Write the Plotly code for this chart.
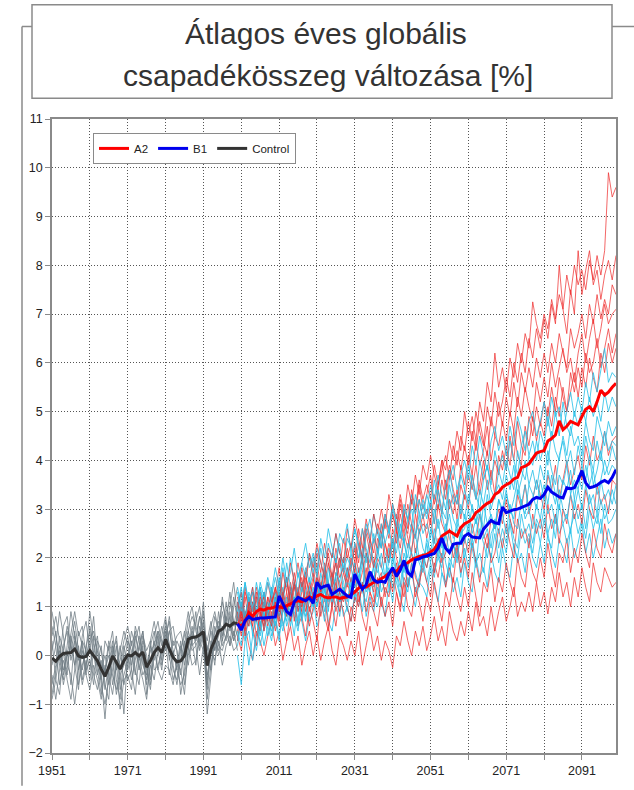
import plotly.graph_objects as go

# ---------------- DATA ----------------
YEARS_CTRL = list(range(1951, 2001))
YEARS_SCEN = list(range(2000, 2101))
X_TICK_VALUES = list(range(1951, 2100, 10))
X_TICK_LABELS = ["1951", "", "1971", "", "1991", "", "2011", "", "2031", "", "2051", "", "2071", "", "2091"]
Y_TICK_VALUES = list(range(-2, 12))

CTRL_MEAN = [-0.05, -0.12, -0.02, 0.04, 0.05, 0.06, 0.13, -0.01, -0.04, -0.02,
             0.1, -0.01, -0.11, -0.28, -0.43, -0.24, -0.01, -0.14, -0.28, -0.11,
             0.01, -0.01, 0.06, -0.01, 0.07, -0.24, -0.11, 0.06, 0.16, 0.06,
             0.33, 0.13, -0.04, -0.13, -0.11, -0.01, 0.33, 0.37, 0.38, 0.42,
             0.49, -0.21, 0.13, 0.31, 0.5, 0.54, 0.64, 0.6, 0.67, 0.65]

B1_MEAN = [0.65, 0.52, 0.71, 0.8, 0.74, 0.76, 0.77, 0.77, 0.78, 0.78,
           0.79, 1.22, 1.05, 0.9, 0.84, 1.1, 1.19, 1.15, 1.12, 1.18,
           1.07, 1.5, 1.38, 1.42, 1.44, 1.25, 1.3, 1.36, 1.29, 1.22,
           1.19, 1.67, 1.5, 1.36, 1.45, 1.72, 1.55, 1.5, 1.52, 1.5,
           1.67, 1.8, 1.62, 1.75, 1.95, 1.7, 1.63, 1.96, 1.98, 2.02,
           2.04, 2.07, 2.09, 2.2, 2.41, 2.2, 2.11, 2.28, 2.3, 2.3,
           2.45, 2.5, 2.43, 2.42, 2.41, 2.59, 2.68, 2.77, 2.72, 2.7,
           3.04, 2.93, 2.96, 2.99, 3.0, 3.03, 3.07, 3.1, 3.2, 3.24,
           3.22, 3.3, 3.45, 3.35, 3.3, 3.25, 3.23, 3.44, 3.42, 3.44,
           3.6, 3.79, 3.54, 3.44, 3.46, 3.49, 3.55, 3.59, 3.54, 3.65,
           3.81]

A2_MEAN = [0.65, 0.6, 0.7, 0.88, 0.8, 0.9, 0.95, 0.93, 0.97, 0.97,
           1.0, 1.0, 0.98, 1.02, 1.05, 1.1, 1.12, 1.1, 1.15, 1.2,
           1.17, 1.22, 1.25, 1.2, 1.18, 1.2, 1.2, 1.17, 1.19, 1.2,
           1.25, 1.3, 1.38, 1.42, 1.4, 1.45, 1.5, 1.52, 1.58, 1.62,
           1.68, 1.75, 1.72, 1.82, 1.87, 1.9, 1.96, 2.0, 2.03, 2.05,
           2.07, 2.12, 2.18, 2.3, 2.45, 2.5, 2.55, 2.5, 2.45, 2.62,
           2.7, 2.74, 2.8, 2.93, 2.98, 3.06, 3.12, 3.16, 3.3, 3.35,
           3.45, 3.5, 3.54, 3.62, 3.65, 3.85, 3.88, 3.93, 4.05, 4.15,
           4.18, 4.2, 4.4, 4.45, 4.52, 4.81, 4.63, 4.7, 4.8, 4.76,
           4.73, 4.9, 5.05, 5.1, 5.0, 5.2, 5.44, 5.34, 5.4, 5.5,
           5.58]

# Control ensemble members (1951-2000)
CTRL_1 = [0.6, 0.2, 0.9, 0.4, -0.2, 0.3, 0.7, 0.1, -0.3, 0.2,
          0.5, 0.0, -0.4, -0.1, -0.7, -0.2, 0.3, -0.5, -0.9, 0.1,
          0.4, -0.2, 0.3, 0.6, -0.1, -0.6, 0.2, 0.5, 0.1, 0.4,
          0.8, 0.2, -0.3, -0.5, 0.1, 0.4, 0.9, 0.3, 0.7, 1.0,
          0.4, -0.6, 0.2, 0.8, 0.5, 1.1, 0.7, 1.3, 0.6, 1.0]
CTRL_2 = [-0.4, -0.9, -0.3, 0.2, 0.5, -0.1, 0.3, -0.6, -0.2, 0.1,
          -0.3, 0.4, 0.1, -0.6, -1.0, -0.5, 0.1, 0.3, -0.4, -0.2,
          0.3, 0.1, -0.4, 0.2, 0.5, -0.3, -0.7, 0.1, 0.4, -0.2,
          0.2, 0.5, 0.1, -0.3, -0.6, -0.4, 0.1, 0.6, 0.2, 0.4,
          0.9, -0.9, -0.2, 0.3, 0.1, 0.6, 0.3, 0.9, 0.4, 0.8]
CTRL_3 = [0.1, 0.5, -0.2, -0.5, 0.2, 0.9, 0.4, -0.1, 0.3, -0.4,
          0.6, 0.2, -0.3, -0.8, -0.2, -0.6, -0.3, 0.2, -0.7, -0.4,
          -0.1, 0.5, 0.2, -0.3, 0.3, 0.0, -0.5, 0.4, 0.7, 0.2,
          0.6, -0.1, 0.3, 0.1, -0.4, 0.2, 0.7, 1.0, 0.5, 0.2,
          0.7, 0.1, 0.5, 0.1, 0.9, 0.4, 1.1, 0.5, 1.2, 0.7]
CTRL_4 = [-0.6, -0.2, 0.4, 0.1, -0.5, -0.9, -0.3, 0.5, 0.2, -0.3,
          -0.1, -0.6, 0.3, 0.1, -0.4, 0.2, -0.6, -0.1, -1.1, -0.5,
          -0.4, -0.7, 0.1, -0.2, -0.5, -0.9, -0.1, 0.3, -0.3, 0.1,
          0.4, 0.7, -0.2, -0.6, -0.1, 0.3, -0.2, 0.4, 0.9, 0.1,
          0.5, -1.2, -0.4, 0.4, 0.0, 0.3, 0.8, 0.2, 0.5, 0.1]
CTRL_5 = [0.3, -0.5, -0.8, 0.1, 0.6, 0.2, -0.2, -0.7, 0.3, 0.1,
          0.9, 0.3, -0.2, 0.2, -0.6, -0.9, 0.2, -0.3, 0.1, 0.5,
          0.2, -0.3, 0.6, 0.3, -0.2, -0.4, 0.2, -0.1, 0.5, 0.3,
          0.1, 0.5, 0.6, 0.1, -0.8, -0.3, 0.5, 0.2, 0.3, 0.8,
          0.6, 0.3, 0.7, 0.1, 0.4, 0.9, 0.5, 0.2, 1.0, 1.4]
CTRL_6 = [-0.8, -0.3, 0.2, -0.4, 0.1, -0.6, 0.4, 0.0, -0.6, -0.2,
          0.2, -0.4, -0.7, -0.3, 0.0, -0.4, -0.8, -0.2, 0.2, -0.6,
          -0.2, 0.3, -0.3, -0.6, 0.2, -0.8, -0.2, -0.5, 0.1, -0.3,
          0.5, 0.0, -0.5, -0.2, 0.3, -0.6, 0.0, 0.3, -0.2, 0.6,
          0.2, -0.5, 0.3, -0.2, 0.6, 0.2, 0.4, 0.8, 0.3, 0.5]
CTRL_7 = [0.9, 0.4, -0.1, 0.6, 0.8, 0.1, 0.5, -0.3, 0.4, 0.7,
          0.1, 0.8, -0.2, -0.5, 0.3, 0.1, 0.5, -0.3, -0.1, 0.3,
          0.6, 0.2, 0.5, -0.1, 0.4, 0.1, 0.3, 0.7, 0.2, 0.6,
          0.3, 0.8, 0.2, 0.4, 0.5, 0.1, 0.5, 0.8, 0.6, 0.3,
          1.1, -0.1, 0.6, 0.9, 0.5, 1.2, 0.6, 1.0, 1.5, 0.8]
CTRL_8 = [-0.2, 0.2, -0.6, -0.1, -0.4, 0.4, -0.2, 0.2, -0.5, -0.1,
          -0.5, 0.1, 0.4, -0.4, -1.3, -0.3, -0.1, -0.8, -0.4, -1.2,
          0.0, -0.5, -0.1, 0.4, 0.0, -0.5, 0.3, -0.3, -0.2, 0.1,
          0.3, -0.4, 0.1, -0.3, 0.2, -0.2, 0.4, 0.1, 0.2, -0.4,
          0.2, -0.4, 0.0, 0.6, 0.2, 0.1, 0.4, 0.6, 0.3, 0.9]
CTRL_9 = [0.4, 0.8, 0.3, -0.3, 0.0, 0.5, 0.9, 0.4, 0.6, 0.0,
          0.3, 0.5, 0.1, -0.2, -0.3, 0.3, 0.0, 0.4, -0.3, 0.2,
          -0.3, 0.0, 0.4, 0.1, 0.5, -0.2, 0.1, 0.2, 0.5, -0.1,
          0.7, 0.2, 0.0, 0.3, 0.1, 0.5, 0.2, 0.5, 0.3, 0.8,
          0.3, 0.2, -0.3, 0.5, 0.7, 0.3, 0.9, 1.1, 0.7, 0.4]
CTRL_10 = [-0.9, -0.5, 0.1, -0.6, -0.2, -0.4, -1.0, -0.3, 0.1, -0.4,
           -0.7, -0.2, -0.5, -0.9, -0.3, 0.0, -0.4, -0.7, -0.3, 0.0,
           -0.5, -0.3, -0.8, 0.0, -0.4, -0.2, -0.6, 0.1, -0.3, -0.5,
           -0.2, -0.3, -0.6, -0.1, -0.3, -0.8, 0.2, -0.2, -0.1, 0.3,
           0.1, -0.7, 0.1, -0.1, 0.3, -0.2, 0.2, 0.4, 0.1, 0.2]

# B1 ensemble members (2000-2100)
B1_1 = [0.3, 0.9, 0.5, -0.2, 0.4, 0.8, 0.2, 0.6, 1.0, 0.4,
        0.7, 0.3, 1.1, 0.6, 0.9, 0.4, 1.2, 0.7, 0.3, 0.8,
        1.2, 0.6, 0.9, 1.4, 0.7, 0.5, 1.1, 1.3, 0.8, 1.0,
        0.7, 1.3, 1.0, 1.5, 0.8, 1.2, 0.9, 1.4, 1.1, 0.8,
        1.5, 1.1, 1.7, 1.2, 0.9, 1.6, 1.3, 1.0, 1.5, 1.4,
        1.2, 1.8, 1.4, 1.1, 1.7, 1.5, 1.9, 1.3, 1.6, 1.2,
        1.9, 1.5, 1.3, 2.0, 1.6, 1.8, 1.4, 2.1, 1.7, 1.5,
        2.2, 1.8, 1.6, 2.3, 1.9, 2.1, 1.7, 2.4, 2.0, 1.8,
        2.3, 1.9, 2.5, 2.1, 1.8, 2.4, 2.2, 1.9, 2.6, 2.0,
        2.3, 2.7, 2.1, 2.5, 2.0, 2.4, 2.8, 2.2, 2.6, 2.3,
        2.5]
B1_2 = [1.1, 0.5, 0.8, 1.2, 0.4, 0.9, 0.6, 1.3, 0.7, 0.5,
        1.0, 1.3, 0.6, 0.9, 1.4, 0.8, 0.5, 1.1, 1.2, 0.7,
        0.9, 1.4, 1.2, 0.7, 1.5, 1.0, 1.3, 0.8, 1.4, 1.1,
        1.6, 1.1, 1.4, 0.9, 1.5, 1.7, 1.2, 1.0, 1.6, 1.3,
        1.3, 1.8, 1.5, 1.2, 1.9, 1.4, 1.7, 1.3, 1.6, 2.0,
        1.5, 1.9, 1.6, 2.2, 1.7, 1.4, 2.0, 1.8, 2.3, 1.6,
        2.2, 1.8, 2.4, 1.9, 2.1, 1.7, 2.3, 2.0, 2.5, 1.9,
        2.4, 2.1, 2.7, 2.2, 2.0, 2.6, 2.3, 2.5, 2.1, 2.7,
        2.3, 2.8, 2.4, 2.2, 2.9, 2.5, 2.7, 2.3, 2.6, 2.9,
        2.5, 2.8, 2.4, 3.0, 2.6, 2.9, 2.5, 3.1, 2.7, 2.8,
        3.0]
B1_3 = [0.2, 0.7, 0.3, 0.8, 0.5, 0.1, 0.6, 0.9, 0.4, 0.7,
        1.2, 0.8, 0.5, 1.0, 1.3, 0.9, 0.6, 1.2, 0.8, 1.1,
        1.4, 1.0, 1.3, 0.9, 1.5, 1.2, 1.6, 1.1, 1.3, 0.9,
        1.5, 1.2, 1.8, 1.3, 1.1, 1.6, 1.4, 1.9, 1.3, 1.5,
        1.8, 1.4, 1.6, 2.0, 1.5, 1.3, 1.9, 1.7, 1.4, 2.1,
        1.8, 2.2, 1.7, 2.0, 2.4, 1.9, 1.6, 2.3, 2.0, 2.5,
        2.0, 2.4, 2.2, 1.8, 2.6, 2.3, 2.0, 2.5, 2.7, 2.2,
        2.6, 2.3, 2.8, 2.4, 2.2, 2.9, 2.5, 2.7, 2.3, 2.8,
        2.6, 3.0, 2.5, 2.8, 2.4, 3.1, 2.7, 2.9, 2.5, 3.2,
        2.8, 3.1, 2.6, 3.3, 2.9, 2.7, 3.2, 2.8, 3.0, 3.4,
        3.1]
B1_4 = [0.9, 1.3, 0.6, 1.0, 1.4, 0.7, 1.1, 0.5, 0.9, 1.2,
        0.6, 1.1, 1.4, 0.8, 1.0, 1.5, 0.9, 1.2, 0.7, 1.3,
        1.0, 1.6, 1.2, 1.4, 0.9, 1.7, 1.3, 1.1, 1.5, 1.8,
        1.2, 1.7, 1.4, 1.9, 1.3, 1.5, 1.8, 1.2, 1.6, 2.0,
        1.5, 2.0, 1.7, 1.4, 2.1, 1.8, 1.6, 2.2, 1.9, 1.7,
        2.3, 1.9, 2.4, 2.0, 1.8, 2.5, 2.1, 2.3, 1.9, 2.6,
        2.3, 2.7, 2.2, 2.5, 2.9, 2.4, 2.6, 2.2, 2.8, 2.5,
        2.9, 2.5, 3.1, 2.7, 2.6, 3.2, 2.8, 3.0, 2.6, 3.1,
        2.8, 3.3, 2.9, 3.1, 2.7, 3.4, 3.0, 2.8, 3.3, 3.0,
        3.4, 3.0, 3.5, 3.1, 3.3, 2.9, 3.6, 3.2, 3.4, 3.1,
        3.5]
B1_5 = [0.5, 0.2, 0.9, 0.6, 1.1, 0.7, 0.4, 1.0, 0.8, 1.3,
        0.9, 1.4, 1.0, 0.7, 1.2, 1.5, 1.1, 0.8, 1.3, 1.6,
        1.2, 1.0, 1.7, 1.3, 1.1, 1.6, 1.9, 1.4, 1.2, 1.7,
        1.8, 1.4, 1.6, 2.0, 1.5, 1.3, 1.9, 1.7, 2.1, 1.6,
        1.9, 2.3, 1.7, 2.0, 2.4, 1.8, 2.2, 2.5, 2.0, 1.8,
        2.4, 2.1, 2.6, 2.2, 2.0, 2.7, 2.4, 2.2, 2.8, 2.5,
        2.6, 3.0, 2.5, 2.8, 2.4, 3.1, 2.7, 2.9, 2.6, 3.2,
        2.9, 3.3, 3.0, 2.8, 3.4, 3.1, 3.5, 3.0, 3.2, 3.6,
        3.2, 3.5, 3.1, 3.7, 3.3, 3.0, 3.6, 3.4, 3.8, 3.2,
        3.7, 3.4, 3.9, 3.5, 3.8, 3.3, 3.6, 4.0, 3.7, 3.9,
        3.8]
B1_6 = [1.3, 0.9, 1.5, 1.0, 0.7, 1.2, 1.4, 0.8, 1.1, 0.6,
        1.3, 0.8, 1.1, 1.6, 1.0, 1.2, 0.7, 1.5, 1.1, 1.4,
        1.7, 1.2, 1.5, 1.1, 1.8, 1.4, 1.6, 2.0, 1.3, 1.5,
        1.4, 1.9, 1.6, 1.3, 2.1, 1.7, 1.5, 2.2, 1.8, 1.6,
        2.2, 1.8, 2.5, 2.0, 1.7, 2.3, 2.1, 1.9, 2.6, 2.2,
        2.0, 2.6, 2.3, 2.8, 2.2, 2.5, 2.9, 2.4, 2.6, 2.3,
        2.9, 2.5, 3.1, 2.7, 3.0, 2.6, 3.3, 2.8, 2.6, 3.2,
        3.0, 3.4, 2.9, 3.2, 3.6, 3.1, 2.9, 3.5, 3.3, 3.0,
        3.6, 3.2, 3.8, 3.4, 3.1, 3.7, 3.5, 3.9, 3.3, 3.6,
        3.4, 3.9, 3.6, 4.1, 3.5, 3.8, 4.2, 3.7, 3.9, 4.3,
        4.0]
B1_7 = [0.0, -0.6, 0.3, 0.5, -0.1, 0.4, 0.7, 0.2, 0.6, 0.3,
        0.8, 0.4, 0.9, 1.2, 0.6, 1.0, 1.3, 0.7, 1.1, 1.4,
        1.0, 1.5, 1.2, 1.8, 1.4, 1.1, 1.7, 1.5, 2.0, 1.6,
        2.1, 1.7, 1.5, 2.2, 1.9, 2.4, 1.8, 2.0, 2.5, 2.1,
        1.9, 2.4, 2.1, 2.7, 2.3, 2.0, 2.6, 2.4, 2.9, 2.5,
        2.7, 2.4, 3.0, 2.6, 2.9, 2.5, 3.2, 2.8, 2.6, 3.1,
        2.8, 3.3, 3.0, 2.7, 3.4, 3.1, 3.6, 3.0, 3.3, 3.5,
        3.2, 3.7, 3.4, 3.9, 3.3, 3.6, 4.0, 3.5, 3.8, 3.4,
        3.9, 3.6, 4.2, 3.8, 3.5, 4.1, 4.4, 3.9, 4.2, 3.7,
        4.3, 3.9, 4.5, 4.1, 3.8, 4.4, 4.0, 4.6, 4.2, 4.4,
        4.3]
B1_8 = [1.0, 1.4, 0.8, 1.2, 0.9, 1.5, 1.1, 1.3, 0.8, 1.4,
        1.1, 1.6, 1.2, 1.9, 1.4, 1.1, 1.7, 1.3, 1.8, 1.5,
        2.0, 1.6, 2.2, 1.8, 1.5, 2.1, 1.9, 2.3, 1.7, 2.0,
        1.8, 2.3, 2.0, 2.6, 2.2, 1.9, 2.5, 2.1, 2.7, 2.3,
        2.6, 2.2, 2.9, 2.5, 2.3, 2.8, 3.0, 2.5, 2.7, 3.1,
        2.8, 3.2, 2.7, 3.4, 3.0, 2.8, 3.5, 3.1, 3.3, 2.9,
        3.4, 3.1, 3.7, 3.3, 3.0, 3.6, 3.9, 3.4, 3.2, 3.8,
        3.5, 4.0, 3.7, 3.4, 4.2, 3.8, 3.6, 4.1, 3.9, 4.4,
        4.0, 4.3, 3.9, 4.6, 4.2, 4.0, 4.5, 4.1, 4.7, 4.3,
        4.5, 4.1, 4.8, 4.4, 4.2, 4.9, 4.6, 4.3, 4.8, 4.5,
        4.7]
B1_9 = [0.7, 1.1, 0.6, 1.3, 1.0, 0.8, 1.4, 1.0, 1.5, 1.2,
        1.6, 1.2, 1.8, 1.4, 2.0, 1.5, 1.3, 1.9, 1.6, 2.1,
        1.7, 2.2, 1.9, 1.6, 2.3, 2.0, 2.5, 2.1, 1.8, 2.4,
        2.2, 2.6, 2.3, 2.0, 2.7, 2.4, 2.9, 2.5, 2.2, 2.8,
        2.6, 3.1, 2.7, 2.4, 3.0, 2.8, 3.3, 2.9, 3.2, 2.8,
        3.3, 3.0, 3.6, 3.2, 2.9, 3.5, 3.8, 3.3, 3.1, 3.7,
        3.4, 3.9, 3.5, 3.2, 4.0, 3.6, 3.9, 3.5, 4.2, 3.8,
        4.1, 3.8, 4.4, 4.0, 3.7, 4.3, 4.6, 4.1, 4.4, 4.0,
        4.6, 4.3, 4.9, 4.4, 5.0, 4.5, 5.2, 4.7, 4.5, 5.0,
        4.7, 5.1, 4.8, 5.3, 4.9, 5.2, 4.8, 5.4, 5.0, 5.3,
        5.1]
B1_10 = [1.4, 1.0, 1.5, 1.1, 1.3, 0.9, 1.5, 1.2, 1.6, 1.3,
         1.8, 1.4, 2.0, 1.5, 1.7, 2.2, 1.6, 1.9, 2.3, 1.8,
         2.1, 1.7, 2.4, 2.0, 2.6, 2.2, 1.9, 2.5, 2.3, 2.7,
         2.1, 2.6, 2.2, 1.9, 2.5, 2.8, 2.3, 2.6, 2.2, 2.9,
         2.5, 3.0, 2.7, 2.4, 3.1, 2.8, 2.6, 3.3, 2.9, 3.2,
         2.9, 3.5, 3.2, 3.7, 3.3, 3.0, 3.6, 3.9, 3.4, 3.7,
         4.0, 3.6, 4.3, 3.9, 4.5, 4.1, 3.8, 4.4, 4.7, 4.2,
         4.5, 4.1, 4.7, 4.3, 4.9, 4.6, 4.2, 4.8, 5.0, 4.5,
         4.8, 5.2, 4.7, 5.3, 4.9, 5.1, 4.6, 5.0, 5.4, 4.9,
         5.3, 5.0, 5.6, 5.2, 5.8, 5.4, 5.9, 6.3, 5.6, 5.8,
         5.7]

# A2 ensemble members (2000-2100)
A2_1 = [0.4, 0.1, 0.6, 0.2, -0.1, 0.5, 0.3, 0.0, 0.4, 0.7,
        0.2, 0.5, -0.1, 0.3, 0.6, 0.1, 0.4, -0.2, 0.2, 0.5,
        0.0, 0.4, -0.1, 0.3, 0.6, 0.1, -0.2, 0.4, 0.2, -0.1,
        0.3, 0.0, 0.5, -0.2, 0.2, 0.6, 0.1, 0.4, -0.1, 0.3,
        0.1, -0.25, 0.4, 0.2, 0.7, 0.3, 0.0, 0.5, 0.2, 0.6,
        0.1, 0.4, 0.8, 0.3, 0.6, 0.2, 0.9, 0.5, 0.3, 0.7,
        0.4, 0.9, 0.5, 1.1, 0.6, 0.8, 0.4, 1.0, 0.5, 0.9,
        1.2, 0.7, 1.0, 1.4, 0.8, 1.1, 0.9, 1.3, 0.9, 1.5,
        1.0, 1.3, 0.85, 1.4, 1.1, 1.7, 1.2, 1.5, 1.0, 1.6,
        1.2, 1.8, 1.4, 1.1, 1.9, 1.5, 1.3, 1.8, 1.6, 1.4,
        1.5]
A2_2 = [0.9, 0.5, 1.2, 0.7, 1.0, 0.4, 0.8, 1.1, 0.6, 0.9,
        0.5, 1.0, 0.7, 0.3, 0.9, 1.2, 0.6, 0.8, 0.4, 1.0,
        0.7, 0.3, 1.1, 0.8, 0.5, 1.0, 0.6, 1.2, 0.9, 0.4,
        1.0, 0.7, 1.3, 0.8, 0.5, 1.1, 0.9, 0.6, 1.2, 0.8,
        1.1, 0.6, 1.3, 0.9, 1.5, 1.0, 0.8, 1.4, 1.1, 0.7,
        1.2, 0.9, 1.5, 1.1, 0.7, 1.3, 1.0, 1.6, 1.2, 0.9,
        1.4, 1.0, 1.7, 1.2, 0.8, 1.5, 1.3, 1.8, 1.1, 1.6,
        1.3, 1.9, 1.5, 1.2, 2.0, 1.6, 1.4, 2.1, 1.7, 1.5,
        2.0, 1.6, 2.3, 1.8, 1.4, 2.1, 1.9, 2.4, 1.7, 2.2,
        1.9, 2.5, 2.1, 1.8, 2.6, 2.2, 2.0, 2.7, 2.3, 2.1,
        2.5]
A2_3 = [0.3, 0.8, 0.5, 1.0, 0.6, 0.2, 0.9, 0.7, 1.2, 0.8,
        1.1, 0.6, 0.9, 1.3, 0.7, 1.0, 1.4, 0.8, 1.1, 0.6,
        1.0, 1.4, 0.8, 1.2, 0.6, 1.1, 1.5, 0.9, 1.3, 1.0,
        0.7, 1.2, 1.0, 1.5, 0.9, 1.3, 1.1, 1.6, 1.0, 1.4,
        1.2, 1.7, 1.3, 1.0, 1.6, 1.4, 1.9, 1.2, 1.5, 1.8,
        1.5, 1.2, 1.9, 1.6, 2.1, 1.4, 1.8, 1.5, 2.2, 1.7,
        2.0, 1.6, 2.3, 1.9, 1.5, 2.2, 2.5, 1.9, 2.1, 2.6,
        2.2, 2.7, 2.3, 2.0, 2.8, 2.4, 2.6, 2.2, 2.9, 2.5,
        2.8, 2.4, 3.1, 2.6, 2.9, 2.3, 3.0, 2.7, 3.3, 2.8,
        3.1, 2.7, 3.4, 3.0, 2.8, 3.5, 3.1, 3.3, 2.9, 3.6,
        3.5]
A2_4 = [1.2, 0.8, 1.4, 0.9, 0.6, 1.1, 1.3, 0.7, 1.0, 1.2,
        0.8, 1.3, 0.9, 1.1, 1.5, 0.7, 1.2, 1.0, 1.4, 0.9,
        1.3, 0.8, 1.2, 1.6, 1.0, 1.4, 0.9, 1.3, 1.1, 1.5,
        1.2, 1.6, 1.1, 1.4, 1.8, 1.3, 1.0, 1.5, 1.7, 1.2,
        1.6, 1.3, 1.9, 1.5, 1.2, 1.8, 2.1, 1.6, 1.4, 2.0,
        1.8, 2.2, 1.7, 2.4, 1.9, 2.1, 2.6, 2.0, 2.3, 1.9,
        2.4, 2.1, 2.7, 2.3, 2.9, 2.5, 2.2, 2.8, 2.6, 3.0,
        2.7, 3.2, 2.8, 2.5, 3.3, 3.0, 3.5, 2.9, 3.2, 3.6,
        3.3, 3.0, 3.7, 3.4, 3.9, 3.2, 3.6, 4.0, 3.5, 3.8,
        4.1, 3.6, 4.3, 3.9, 4.5, 4.0, 4.2, 4.6, 4.1, 4.4,
        4.5]
A2_5 = [0.6, 1.0, 0.4, 0.8, 1.3, 0.9, 0.5, 1.1, 0.8, 1.4,
        1.0, 1.5, 1.1, 0.8, 1.3, 1.7, 1.2, 0.9, 1.6, 1.3,
        1.1, 1.6, 1.3, 1.9, 1.4, 1.0, 1.7, 1.5, 1.2, 1.8,
        1.5, 1.9, 1.4, 1.7, 2.1, 1.6, 1.3, 2.0, 1.8, 2.3,
        1.9, 2.4, 2.0, 1.7, 2.5, 2.2, 2.7, 2.1, 2.5, 2.9,
        2.4, 2.8, 2.3, 3.1, 2.7, 2.5, 3.2, 2.9, 3.4, 2.8,
        3.3, 3.0, 3.7, 3.2, 3.5, 4.0, 3.4, 3.8, 3.3, 4.1,
        3.8, 4.3, 3.9, 4.6, 4.1, 3.9, 4.7, 4.3, 4.9, 4.4,
        4.8, 4.5, 5.1, 4.7, 5.3, 4.9, 5.5, 5.0, 5.4, 5.8,
        5.3, 5.9, 5.5, 6.1, 5.7, 5.4, 6.2, 5.8, 6.4, 6.0,
        6.3]
A2_6 = [0.8, 0.4, 0.9, 0.6, 1.1, 0.7, 1.0, 0.5, 0.9, 0.7,
        1.2, 0.8, 1.3, 1.0, 0.7, 1.4, 1.1, 1.5, 0.9, 1.3,
        1.6, 1.1, 1.4, 1.8, 1.2, 1.5, 1.9, 1.3, 1.7, 1.4,
        1.8, 2.2, 1.7, 2.0, 1.5, 2.3, 1.9, 2.1, 2.5, 1.9,
        2.3, 2.0, 2.6, 2.2, 2.8, 2.4, 2.1, 2.9, 2.5, 2.7,
        2.6, 3.1, 2.7, 3.4, 2.9, 3.6, 3.0, 3.3, 2.8, 3.5,
        3.2, 3.7, 3.4, 3.9, 3.3, 3.8, 4.2, 3.6, 4.0, 3.7,
        4.2, 3.8, 4.5, 4.0, 4.8, 4.3, 4.1, 4.9, 4.5, 5.1,
        4.7, 5.2, 4.9, 5.5, 5.0, 5.7, 5.3, 5.0, 5.8, 5.4,
        5.9, 5.5, 6.2, 5.8, 6.0, 6.5, 5.9, 6.3, 6.7, 6.2,
        6.6]
A2_7 = [1.0, 1.3, 0.8, 1.2, 0.9, 1.4, 1.0, 1.2, 0.7, 1.1,
        1.4, 0.9, 1.2, 1.6, 1.1, 1.5, 0.9, 1.3, 1.7, 1.2,
        1.5, 1.9, 1.4, 1.7, 2.1, 1.6, 1.3, 2.0, 1.7, 2.2,
        1.8, 2.3, 1.9, 2.6, 2.1, 1.8, 2.4, 2.2, 2.7, 2.3,
        2.0, 2.6, 2.3, 2.9, 2.5, 3.1, 2.7, 2.4, 3.2, 2.8,
        3.0, 2.7, 3.3, 3.0, 3.6, 3.2, 3.8, 3.4, 3.1, 3.9,
        3.5, 4.1, 3.7, 4.4, 3.9, 4.2, 4.7, 4.0, 4.5, 4.3,
        4.8, 4.4, 5.0, 4.6, 5.3, 4.9, 5.5, 5.1, 4.8, 5.6,
        5.2, 5.7, 5.3, 6.0, 5.5, 5.9, 6.3, 5.8, 6.1, 5.6,
        6.2, 6.6, 6.0, 6.5, 6.9, 6.3, 6.7, 7.2, 6.8, 7.0,
        7.1]
A2_8 = [0.7, 1.1, 0.6, 1.0, 0.7, 1.2, 0.8, 1.3, 0.9, 0.6,
        1.1, 0.7, 1.2, 0.9, 1.4, 1.0, 1.3, 1.6, 1.1, 1.5,
        1.2, 1.7, 1.3, 1.5, 1.9, 1.4, 2.0, 1.6, 1.8, 1.5,
        2.0, 1.7, 2.3, 1.9, 2.5, 2.1, 1.8, 2.4, 2.2, 2.8,
        2.4, 2.9, 2.5, 3.1, 2.7, 2.5, 3.2, 2.9, 3.5, 3.0,
        3.3, 3.7, 3.1, 3.5, 4.0, 3.4, 3.9, 3.6, 4.2, 3.8,
        4.3, 3.9, 4.6, 4.2, 4.8, 4.4, 4.1, 4.9, 4.5, 5.2,
        4.7, 5.3, 4.9, 5.6, 5.1, 5.8, 5.4, 5.9, 5.5, 6.1,
        5.7, 6.2, 5.8, 6.4, 6.0, 6.6, 6.2, 5.9, 6.7, 6.3,
        6.6, 7.0, 6.5, 7.2, 6.8, 7.4, 6.9, 7.3, 7.0, 7.6,
        7.4]
A2_9 = [1.1, 0.7, 1.3, 1.0, 1.4, 0.8, 1.2, 1.0, 1.5, 1.1,
        1.3, 1.8, 1.2, 1.6, 1.0, 1.5, 1.9, 1.4, 1.7, 2.0,
        1.6, 2.1, 1.7, 2.3, 1.9, 1.6, 2.2, 1.8, 2.4, 2.0,
        2.3, 1.9, 2.6, 2.2, 2.8, 2.4, 2.1, 2.7, 2.5, 2.9,
        2.6, 3.1, 2.8, 3.3, 2.9, 2.6, 3.4, 3.0, 3.6, 3.2,
        3.5, 3.2, 3.9, 3.5, 3.8, 4.1, 3.6, 4.3, 3.9, 4.5,
        4.2, 4.8, 4.4, 5.0, 4.6, 4.3, 5.1, 4.7, 5.4, 4.9,
        5.2, 5.7, 5.3, 6.0, 5.6, 6.2, 5.8, 6.5, 6.1, 6.7,
        6.3, 6.9, 6.5, 7.2, 6.8, 8.0, 7.1, 6.6, 7.5, 7.0,
        8.3, 7.4, 7.9, 8.3, 7.6, 7.9, 7.3, 7.8, 8.1, 7.7,
        8.2]
A2_10 = [0.5, 0.9, 0.6, 1.1, 0.8, 1.3, 0.9, 0.6, 1.2, 1.0,
         1.4, 1.1, 1.7, 1.3, 1.9, 1.5, 1.2, 1.8, 1.4, 2.1,
         1.8, 2.3, 1.9, 1.6, 2.2, 2.0, 2.5, 2.1, 1.9, 2.6,
         2.2, 2.8, 2.4, 2.0, 2.6, 2.3, 2.9, 2.5, 3.0, 2.6,
         3.3, 2.9, 2.6, 3.2, 2.8, 3.5, 3.1, 3.7, 3.3, 3.9,
         3.6, 4.1, 3.7, 3.4, 4.0, 3.8, 4.4, 4.0, 4.6, 4.2,
         5.0, 4.5, 4.9, 4.4, 5.2, 4.8, 5.6, 5.2, 6.2, 5.5,
         5.9, 5.4, 6.1, 5.7, 6.4, 6.0, 6.6, 6.3, 7.25, 6.8,
         6.5, 7.0, 6.7, 7.3, 6.9, 7.4, 7.1, 7.8, 7.4, 8.0,
         7.6, 7.9, 7.5, 8.1, 7.7, 8.2, 7.8, 8.3, 9.9, 9.4,
         9.6]

CTRL_MEMBERS = [CTRL_1, CTRL_2, CTRL_3, CTRL_4, CTRL_5, CTRL_6, CTRL_7, CTRL_8, CTRL_9, CTRL_10]
B1_MEMBERS = [B1_1, B1_2, B1_3, B1_4, B1_5, B1_6, B1_7, B1_8, B1_9, B1_10]
A2_MEMBERS = [A2_1, A2_2, A2_3, A2_4, A2_5, A2_6, A2_7, A2_8, A2_9, A2_10]

for s in CTRL_MEMBERS + [CTRL_MEAN]:
    assert len(s) == len(YEARS_CTRL), len(s)
for s in B1_MEMBERS + A2_MEMBERS + [B1_MEAN, A2_MEAN]:
    assert len(s) == len(YEARS_SCEN), len(s)

# ---------------- STYLE / LAYOUT ----------------
W, H = 634, 790
ML, MR, MT, MB = 52, 18, 119, 33
PW, PH = W - ML - MR, H - MT - MB


def px(x):
    return (x - ML) / PW


def py(y):
    return (H - MB - y) / PH


FONT = "Liberation Sans, Arial, sans-serif"
GREY = "rgba(112,124,132,0.78)"
RED = "rgba(238,45,45,0.72)"
CYAN = "rgba(38,192,232,0.82)"

fig = go.Figure()

for s in CTRL_MEMBERS:
    fig.add_trace(go.Scatter(x=YEARS_CTRL, y=s, mode="lines", line=dict(color=GREY, width=1),
                             showlegend=False, hoverinfo="skip"))
for a, b in zip(A2_MEMBERS, B1_MEMBERS):
    fig.add_trace(go.Scatter(x=YEARS_SCEN, y=a, mode="lines", line=dict(color=RED, width=1),
                             showlegend=False, hoverinfo="skip"))
    fig.add_trace(go.Scatter(x=YEARS_SCEN, y=b, mode="lines", line=dict(color=CYAN, width=1),
                             showlegend=False, hoverinfo="skip"))

fig.add_trace(go.Scatter(x=YEARS_CTRL, y=CTRL_MEAN, mode="lines", name="Control",
                         line=dict(color="#333333", width=3), legendrank=3))
fig.add_trace(go.Scatter(x=YEARS_SCEN, y=A2_MEAN, mode="lines", name="A2",
                         line=dict(color="#ff0000", width=3), legendrank=1))
fig.add_trace(go.Scatter(x=YEARS_SCEN, y=B1_MEAN, mode="lines", name="B1",
                         line=dict(color="#0000ee", width=3), legendrank=2))

axis_common = dict(
    showgrid=True, gridcolor="#555555", griddash="1px,2px", gridwidth=1,
    showline=True, linecolor="#8a8a8a", linewidth=1.5, mirror=True,
    ticks="outside", ticklen=5, tickcolor="#8a8a8a", tickwidth=1,
    tickfont=dict(family=FONT, size=12.5, color="#222222"), zeroline=False,
)

fig.update_layout(
    width=W, height=H,
    margin=dict(l=ML, r=MR, t=MT, b=MB, pad=0),
    paper_bgcolor="white", plot_bgcolor="white",
    font=dict(family=FONT, color="#222222"),
    xaxis=dict(range=[1951, 2100], tickmode="array", tickvals=X_TICK_VALUES,
               ticktext=X_TICK_LABELS, **axis_common),
    yaxis=dict(range=[-2, 11], tickmode="array", tickvals=Y_TICK_VALUES, **axis_common),
    legend=dict(orientation="h", x=px(93), y=py(133), xanchor="left", yanchor="top",
                bgcolor="white", bordercolor="#8a8a8a", borderwidth=1,
                font=dict(family=FONT, size=11.5, color="#222222"),
                itemwidth=30, tracegroupgap=0),
    shapes=[
        dict(type="line", xref="paper", yref="paper", x0=px(22), x1=px(22), y0=py(26), y1=py(790),
             line=dict(color="#8a8a8a", width=1.5)),
        dict(type="line", xref="paper", yref="paper", x0=px(22), x1=px(634), y0=py(26), y1=py(26),
             line=dict(color="#8a8a8a", width=1.5)),
        dict(type="rect", xref="paper", yref="paper", x0=px(32), x1=px(612), y0=py(98), y1=py(4),
             fillcolor="white", line=dict(color="#8a8a8a", width=1.5)),
    ],
    annotations=[
        dict(text="Átlagos éves globális", xref="paper", yref="paper", x=px(326), y=py(33),
             xanchor="center", yanchor="middle", showarrow=False,
             font=dict(family=FONT, size=30, color="#333333")),
        dict(text="csapadékösszeg változása [%]", xref="paper", yref="paper", x=px(328), y=py(75),
             xanchor="center", yanchor="middle", showarrow=False,
             font=dict(family=FONT, size=30, color="#333333")),
    ],
)

# remove the browser's default 8px body margin so the figure sits at the page origin
fig.write_html("out.html", config={"displayModeBar": False},
               post_script="document.body.style.margin='0';")
